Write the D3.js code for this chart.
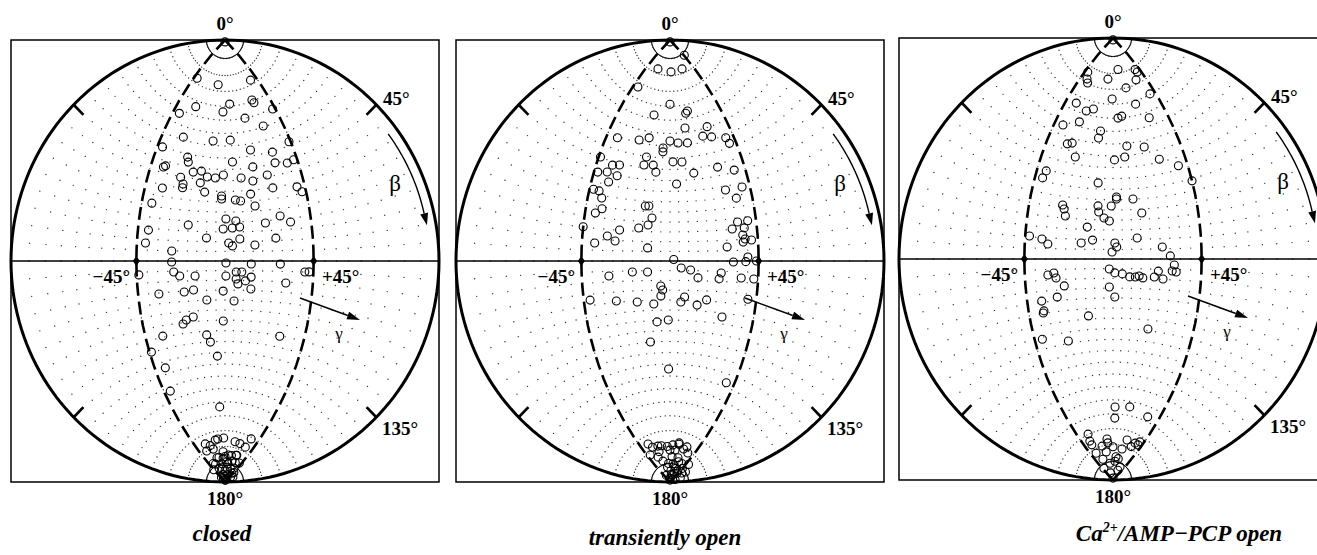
<!DOCTYPE html>
<html>
<head>
<meta charset="utf-8">
<title>Orientation maps</title>
<script src="https://d3js.org/d3.v7.min.js"></script>
<style>
  body { margin: 0; background: #fff; }
  svg { display: block; }
  text { font-family: "Liberation Serif", "Times New Roman", serif; fill: #000; }
</style>
</head>
<body>
<div id="chart"></div>
<script>
// each point is [gamma, beta] in degrees
var closedPts = [
  [0,0.5],[-41,13.5],[-10,13],[37,13.6],[29,19.6],[30,20.7],[5,19.3],[-2,22],[-29,22],[-40,26.4],[43,25.4],[18,25],
  [31,29.6],[-31,34],[-9,33.2],[4,32.7],[44,38.6],[-42,40.2],[18,37.5],[32,40.3],[-25,41.3],[-24,43.3],[5,41.8],
  [32,44.8],[39,46.2],[43,45.7],[-38,47.7],[-37,47],[-20,47.2],[-15,46.3],[18,44.7],[-11,48.7],[-6,48.9],[-1,47.5],
  [10,49.1],[26,49.2],[-27,50.3],[-25,53.1],[-25,54.8],[-15,51.6],[-12,55.7],[17,50.9],[-36,56.4],[28,55.2],[41,56.8],
  [43,59.3],[-2,57.2],[-2,58.7],[15,56.8],[6,59.2],[9,59.8],[17,62.6],[-40,63.8],[0.5,68.5],[6,69.5],[8,72.6],
  [-1,73.5],[4,73],[-20,72],[22,71.2],[30,68.4],[35,71.7],[-40,75.9],[-41,81.8],[-10,78.2],[2,80.7],[4,82.2],[8,78.7],
  [16,81.9],[27,78.8],[-28,85.1],[-28,90.5],[0.5,91],[14,91.5],[29,91.5],[-44,96.2],[-27,95.4],[-24,97.4],[-16,97.6],
  [0.5,97.8],[6,95.7],[9,95.7],[6,99.3],[11,100.2],[14,98.2],[41,95],[43,94.9],[7,101.8],[14,104.2],[32,100.5],
  [-35,105.5],[-22,105.4],[-17,104.6],[-10,109.9],[-1,105.5],[5,110.5],[-24,120.6],[-22,118.9],[-18,117.8],[-1,120.4],
  [-36,124.5],[-11,126.7],[-9,130.1],[32,125.2],[-44,129.8],[-5,136.5],[-39,137.5],[-41,146.5],[-5,156.8],
  [-31,167.8],[-25,168.9],[-15,167.7],[-11,167.5],[-2,167.4],[16,168.2],[24,168.3],[34,168.6],[36,165.5],[-34,169.9],
  [-22,170.2],[-4,171.6],[26,171.9],[-20,173],[0,173],[15,172.5],[30,174],[-35,174],[-10,175],[10,175],[25,176],
  [-25,176],[0,177],[40,177],[-15,178],[20,178],[0,179],[5,174.5],[45,176.5],[-45,175.5],[-40,178.5],[60,177.5],
  [25,172],[-5,173.5],[30,179],[-30,174.5],[-12,176.5],[12,176.5],[35,175.5],[50,178],[-5,178.5],[15,179.5],
  [-25,179],[20,174],[-15,173],[8,172.5],[40,173.5],[0,179.5]
];
var transientPts = [
  [0,0.5],[46,5.7],[-25,8.7],[2,8.9],[25,8.7],[-40,16.5],[0,19.3],[17,22.3],[15,23],[-15,23.6],[12.5,28.3],[30,29.7],
  [25,32.7],[31,33.9],[-38,35.6],[-23,34],[-16,32.4],[0,33],[6,33.9],[13,34.2],[-5,35.9],[-5,37.5],[40,36],[41,38.5],
  [-44,44.8],[-16,40.3],[-17,43.8],[-11,43.4],[-9,46.4],[2,41.7],[8,41.9],[-36,46.5],[-32,45.7],[-43,50.9],[-38,49.8],
  [-32,50.4],[-36,53.8],[15,47.2],[30,46.3],[39,49.2],[4,51.6],[-43,58.2],[-40,58.4],[-38,61.2],[32,56.7],[41,56.9],
  [37,61.1],[-40,68.2],[-37,65.9],[-14,62.4],[-12,62.3],[-10,68.1],[-12,71.7],[-17,73.4],[-45,74.9],[-27,74.9],
  [-33,78.1],[-29,80.3],[-39,81.7],[-12,83.3],[36,71.8],[41,71.8],[33,74.8],[39,74.8],[38,78],[39,79.9],[42,80.5],
  [30,83.2],[38,81.2],[2,89.2],[33,90.5],[40,88.2],[39,90.3],[44,90],[-32,97.2],[-20,95.5],[-12,95.6],[6,93.6],
  [11,94.6],[15,98.6],[27,95.9],[26,98.8],[37,97.9],[43,98.1],[-5,102.9],[-4,104.9],[-5,108],[8,108.4],[6,111],
  [15,112.2],[20,109.4],[-42,107.6],[-29,109.3],[-18,110.5],[-9,111.9],[41,107.3],[29,116.8],[-7.5,120.7],[-1,119.9],
  [-12,129.9],[-1,142.1],[40,143.4],
  [-34,167.5],[-21,169.3],[15,168.6],[29,169],[0,171.1],[-28,172.4],[-40,170.7],
  [-30,169],[-15,169.5],[-5,170],[5,169.5],[15,169],[25,170],[35,170.5],[-22,171],[10,171],
  [20,173],[35,174],[10,175],[45,175],[25,176],[5,177],[40,177],[20,178],[0,179],[-10,176],[-20,174],[-30,178],
  [50,173],[60,175],[70,177],[15,175.5],[30,177.5],[45,179],[55,176],[25,174],[10,178],[-5,175],[35,176.5],
  [65,178.5],[5,173],[0,179.5]
];
var openPts = [
  [0,0.5],[-41,12],[-37,13.9],[-34,14.9],[10,8.9],[-8,11.8],[39,10.8],[40,11.8],[33,13.7],[17,15],[40,19.8],[-36,22.5],
  [-25,23.8],[-19,22.5],[-1,18.2],[23,21.1],[-28,28.3],[-39,31.5],[4.5,25],[8,24.4],[31,27.2],[-10,30.1],[-11,32.9],
  [-32,37.7],[-29,36.9],[-25,42.1],[10,36.1],[22,37.5],[1,41.7],[8,40.6],[30,43.8],[40,48.4],[45,55.9],[-40,50.6],
  [-41,53.8],[-9,52.2],[2,58.7],[2,59.6],[11.5,59.9],[-1,63],[-28,64],[-27,65.8],[-26,69],[-8.5,63.1],[-8,66.1],
  [-5,69],[-2,70.5],[16,66.9],[-14,73.8],[-43,79.7],[-37,80.7],[-34,82.9],[-17,81.9],[-11,80.3],[1,81.7],[2,83.8],
  [-0.5,86.4],[13,79.3],[26,84.1],[30,88.5],[32,92.9],[33,96.2],[31,95.8],[-34,97.6],[-31,96.7],[-30,99.2],[-2,95.2],
  [1,97.2],[5,97.7],[9,99.2],[12,99.2],[14,98.7],[16,99.6],[22,99],[24,96],[26.5,99.8],[-26,103.2],[-30,108.3],
  [-38,109.4],[-37.5,113.9],[-38,114.8],[-2,104.4],[1,109.5],[-14,118.5],[20.5,124.2],[-41,125.8],[-27,128.9],
  [2,157.6],[2,161.5],[16,157],[35,158.4],
  [-33,164.9],[-35,167.1],[-35,168.4],[-35.5,171.2],[-28,173.7],[-11,175.4],[-9,169.4],[-9.5,168.2],[0,170.7],
  [8,173.6],[6.5,174.9],[18,171],[22,167.9],[32,169.3],[35,167.8],[40,167.8],[40,166.7],[28,177.1],[-20,170],
  [-15,172],[15,174],[-40,176],[-20,178],[30,176],[0,179.5]
];

var gridBeta = d3.range(5, 180, 5);
var gridGamma = d3.range(-85, 90, 5);
var tickBeta = [45, 135];
var captions = ["closed", "transiently open", "Ca2+/AMP\u2212PCP open"];

var width = 1317, height = 555;
var RX = 214, RY = 221;

var panels = [
  { pts: closedPts, cx: 225, cy: 261, capX: 222, capY: 541 },
  { pts: transientPts, cx: 670, cy: 261, capX: 665, capY: 545 },
  { pts: openPts, cx: 1113, cy: 259, capX: 1179, capY: 541 }
];

// stereographic, a bit stretched vertically like the printed figure
function rawE(l, p) {
  var q = d3.geoStereographicRaw(l, p);
  return [q[0], q[1] * RY / RX];
}

var svg = d3.select("#chart").append("svg")
  .attr("width", width)
  .attr("height", height);

panels.forEach(function(p, i) {
  var proj = d3.geoProjection(rawE).scale(RX).translate([p.cx, p.cy]).clipAngle(90).precision(0.2);
  var path = d3.geoPath(proj);
  var g = svg.append("g");

  g.append("rect")
    .attr("x", p.cx - RX).attr("y", p.cy - RY)
    .attr("width", 2 * RX).attr("height", 2 * RY)
    .attr("fill", "none").attr("stroke", "#000").attr("stroke-width", 1.5);

  // dotted grid
  var dots = [];
  gridBeta.forEach(function(b) {
    gridGamma.forEach(function(gm) { dots.push(proj([gm, 90 - b])); });
  });
  g.selectAll(".gd").data(dots).enter().append("circle")
    .attr("cx", function(d) { return d[0]; })
    .attr("cy", function(d) { return d[1]; })
    .attr("r", 0.7).attr("fill", "#333");

  // small solid circles round the poles
  [[0, 90], [0, -90]].forEach(function(c) {
    var ring = d3.geoCircle().center(c).radius(5)();
    g.append("path")
      .attr("d", path({ type: "LineString", coordinates: ring.coordinates[0] }))
      .attr("fill", "none").attr("stroke", "#000").attr("stroke-width", 1);
  });

  // equator
  g.append("line")
    .attr("x1", p.cx - RX).attr("x2", p.cx + RX)
    .attr("y1", p.cy).attr("y2", p.cy)
    .attr("stroke", "#000").attr("stroke-width", 1.5);

  // gamma = +-45 meridians
  [-45, 45].forEach(function(gm) {
    g.append("path")
      .attr("d", path({ type: "LineString", coordinates: [[gm, -89.9], [gm, -45], [gm, 0], [gm, 45], [gm, 89.9]] }))
      .attr("fill", "none").attr("stroke", "#000").attr("stroke-width", 2.6)
      .attr("stroke-dasharray", "13,6");
    var m = proj([gm, 0]);
    g.append("path")
      .attr("d", "M" + m[0] + "," + (m[1] - 5) + "l3.5,5l-3.5,5l-3.5,-5z")
      .attr("fill", "#000");
  });

  // outline
  g.append("path")
    .attr("d", path({ type: "Sphere" }))
    .attr("fill", "none").attr("stroke", "#000").attr("stroke-width", 3);

  // ticks at 45 and 135
  tickBeta.forEach(function(b) {
    [-90, 90].forEach(function(gm) {
      var q = proj([gm, 90 - b]);
      var dx = p.cx - q[0], dy = p.cy - q[1], len = Math.sqrt(dx * dx + dy * dy);
      g.append("line")
        .attr("x1", q[0]).attr("y1", q[1])
        .attr("x2", q[0] + 14 * dx / len).attr("y2", q[1] + 14 * dy / len)
        .attr("stroke", "#000").attr("stroke-width", 2.6);
    });
  });

  // data
  g.selectAll(".pt").data(p.pts).enter().append("circle")
    .attr("cx", function(d) { return proj([d[0], 90 - d[1]])[0]; })
    .attr("cy", function(d) { return proj([d[0], 90 - d[1]])[1]; })
    .attr("r", 4).attr("fill", "none").attr("stroke", "#000").attr("stroke-width", 1.1);

  // beta arrow
  var arc = d3.range(53, 77.5, 1).map(function(t) {
    var a = t * Math.PI / 180;
    return [p.cx + 0.955 * RX * Math.sin(a), p.cy - 0.955 * RY * Math.cos(a)];
  });
  g.append("path").attr("d", d3.line()(arc)).attr("fill", "none").attr("stroke", "#000").attr("stroke-width", 1.4);
  var e = arc[arc.length - 1], s = arc[arc.length - 3];
  var ux = e[0] - s[0], uy = e[1] - s[1], ul = Math.sqrt(ux * ux + uy * uy);
  ux /= ul; uy /= ul;
  g.append("path")
    .attr("d", "M" + (e[0] + 12 * ux) + "," + (e[1] + 12 * uy) +
      "L" + (e[0] - 4 * uy) + "," + (e[1] + 4 * ux) +
      "L" + (e[0] + 4 * uy) + "," + (e[1] - 4 * ux) + "Z")
    .attr("fill", "#000");
  g.append("text").attr("x", p.cx + 170).attr("y", p.cy - 70)
    .attr("text-anchor", "middle").style("font-size", "23px").text("\u03b2");

  // gamma arrow
  var g0 = [p.cx + 75, p.cy + 37], g1 = [p.cx + 135, p.cy + 59];
  var vx = g1[0] - g0[0], vy = g1[1] - g0[1], vl = Math.sqrt(vx * vx + vy * vy);
  vx /= vl; vy /= vl;
  var gb = [g1[0] - 13 * vx, g1[1] - 13 * vy];
  g.append("line").attr("x1", g0[0]).attr("y1", g0[1]).attr("x2", gb[0]).attr("y2", gb[1])
    .attr("stroke", "#000").attr("stroke-width", 1.4);
  g.append("path")
    .attr("d", "M" + g1[0] + "," + g1[1] + "L" + (gb[0] - 4 * vy) + "," + (gb[1] + 4 * vx) +
      "L" + (gb[0] + 4 * vy) + "," + (gb[1] - 4 * vx) + "Z")
    .attr("fill", "#000");
  g.append("text").attr("x", p.cx + 114).attr("y", p.cy + 78)
    .attr("text-anchor", "middle").style("font-size", "17px").text("\u03b3");

  // angle labels
  var lab = g.append("g").style("font-weight", "bold").style("font-size", "19px");
  lab.append("text").attr("x", p.cx).attr("y", p.cy - RY - 10).attr("text-anchor", "middle").text("0\u00b0");
  lab.append("text").attr("x", p.cx).attr("y", p.cy + RY + 23).attr("text-anchor", "middle").text("180\u00b0");
  lab.append("text").attr("x", p.cx + 158).attr("y", p.cy - 156).text("45\u00b0");
  lab.append("text").attr("x", p.cx + 157).attr("y", p.cy + 174).text("135\u00b0");
  lab.append("text").attr("x", p.cx - 95).attr("y", p.cy + 22).attr("text-anchor", "end").text("\u221245\u00b0");
  lab.append("text").attr("x", p.cx + 97).attr("y", p.cy + 22).text("+45\u00b0");

  // caption
  var cap = g.append("text").attr("x", p.capX).attr("y", p.capY)
    .attr("text-anchor", "middle")
    .style("font-weight", "bold").style("font-style", "italic").style("font-size", "23px");
  if (i === 2) {
    cap.append("tspan").text("Ca");
    cap.append("tspan").attr("dy", -9).style("font-size", "14px").text("2+");
    cap.append("tspan").attr("dy", 9).text("/AMP\u2212PCP open");
  } else {
    cap.text(captions[i]);
  }
});
</script>
</body>
</html>
